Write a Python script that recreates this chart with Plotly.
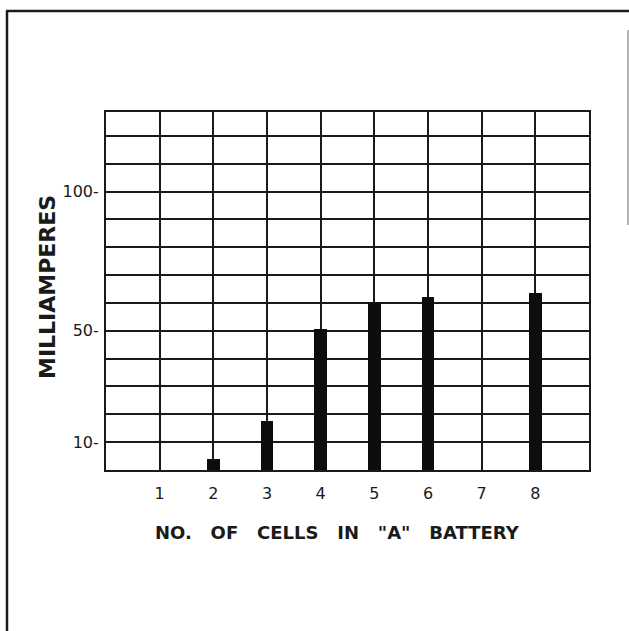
import plotly.graph_objects as go

# Battery cells vs. filament current
cells = [2, 3, 4, 5, 6, 8]
milliamperes = [4, 17.5, 50.5, 60.5, 62.3, 63.5]

x_tick_vals = [1, 2, 3, 4, 5, 6, 7, 8]
x_tick_text = ["1", "2", "3", "4", "5", "6", "7", "8"]
y_tick_vals = [10, 50, 100]
y_tick_text = ["10-", "50-", "100-"]

INK = "#1a1a1a"
FONT = "DejaVu Sans"

fig = go.Figure(
    go.Bar(
        x=cells,
        y=milliamperes,
        width=0.24,
        marker=dict(color="#0d0d0d", line=dict(width=0)),
    )
)

W, H = 629, 631
L, R, T, B = 106, 40, 112, 161
pw, ph = W - L - R, H - T - B


def px(xp):
    return (xp - L) / pw


def py(yp):
    return (H - B - yp) / ph


fig.update_layout(
    width=W,
    height=H,
    margin=dict(l=L, r=R, t=T, b=B, autoexpand=False),
    paper_bgcolor="white",
    plot_bgcolor="white",
    showlegend=False,
    bargap=0,
    font=dict(family=FONT, color=INK),
    xaxis=dict(
        range=[0, 9],
        tickvals=x_tick_vals,
        ticktext=x_tick_text,
        ticks="",
        ticklabelstandoff=8,
        tickfont=dict(size=16, color=INK),
        showgrid=True,
        gridcolor=INK,
        gridwidth=2,
        showline=True,
        linecolor=INK,
        linewidth=2,
        mirror=True,
        zeroline=False,
        automargin=False,
    ),
    yaxis=dict(
        range=[0, 128.6],
        tickvals=y_tick_vals,
        ticktext=y_tick_text,
        ticks="",
        ticklabelstandoff=2,
        tickfont=dict(size=16, color=INK),
        showgrid=True,
        gridcolor=INK,
        gridwidth=2,
        minor=dict(dtick=10, tick0=0, showgrid=True, gridcolor=INK, gridwidth=2),
        showline=True,
        linecolor=INK,
        linewidth=2,
        mirror=True,
        zeroline=False,
        automargin=False,
    ),
    annotations=[
        dict(
            text="NO.   OF   CELLS   IN   \"A\"   BATTERY",
            xref="paper", yref="paper",
            x=px(337), y=py(532),
            xanchor="center", yanchor="middle",
            showarrow=False,
            font=dict(size=18, family=FONT, color=INK, weight="bold"),
        ),
        dict(
            text="MILLIAMPERES",
            xref="paper", yref="paper",
            x=px(47), y=py(287),
            xanchor="center", yanchor="middle",
            textangle=-90,
            showarrow=False,
            font=dict(size=22, family=FONT, color=INK, weight="bold"),
        ),
    ],
    shapes=[
        # page frame: left and top edges, faint right edge
        dict(type="line", xref="paper", yref="paper",
             x0=px(7), x1=px(7), y0=py(11), y1=py(H + 5),
             line=dict(color=INK, width=2.5)),
        dict(type="line", xref="paper", yref="paper",
             x0=px(6), x1=px(W + 5), y0=py(11), y1=py(11),
             line=dict(color=INK, width=2.5)),
        dict(type="line", xref="paper", yref="paper",
             x0=px(628), x1=px(628), y0=py(30), y1=py(225),
             line=dict(color="#666666", width=1)),
    ],
)

fig.write_html("out.html")
